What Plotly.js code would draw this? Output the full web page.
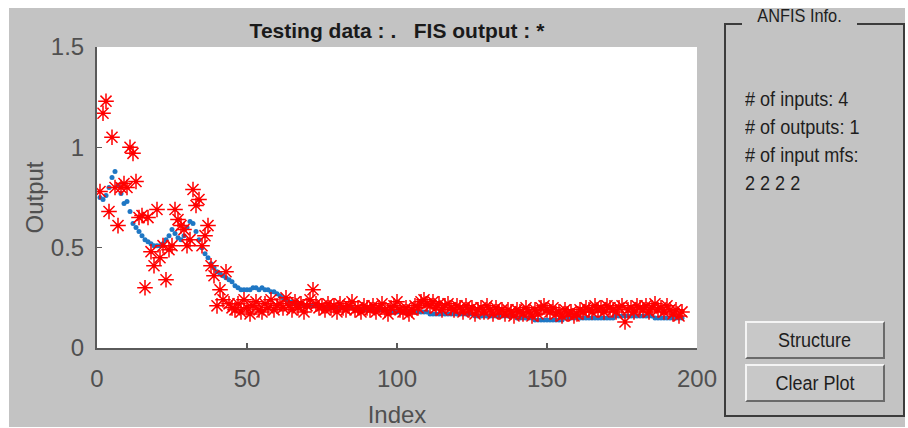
<!DOCTYPE html>
<html>
<head>
<meta charset="utf-8">
<script src="https://cdn.plot.ly/plotly-3.0.1.min.js"></script>
<style>
  html, body { margin:0; padding:0; background:#ffffff; width:908px; height:428px; overflow:hidden; }
  #bg { position:absolute; left:9px; top:8px; width:896px; height:419px; background:#c3c3c3; }
  #plot { position:absolute; left:0; top:0; width:908px; height:428px; }
  .nar { font-family:"Liberation Sans Narrow","Liberation Sans",Arial,sans-serif; color:#1e1e1e; }
  #frame { position:absolute; left:724px; top:23px; width:177px; height:392px;
           border:2px solid #3c3c3c; border-top:none; }
  .topline { position:absolute; top:23px; height:2px; background:#3c3c3c; }
  #ftitle { position:absolute; left:742px; width:115px; top:5px; text-align:center; font-size:19px;
            transform:scaleX(0.86); transform-origin:center; }
  #info { position:absolute; left:745px; top:85px; font-size:21px; line-height:28px;
          transform:scaleX(0.86); transform-origin:left top; white-space:nowrap; }
  .btn { position:absolute; left:745px; width:136px; height:34px; background:#c8c8c8;
         border-top:2px solid #f4f4f4; border-left:2px solid #f4f4f4;
         border-right:2px solid #6a6a6a; border-bottom:2px solid #6a6a6a;
         text-align:center; line-height:34px; font-size:19px; box-sizing:content-box; }
  .btn span { display:inline-block; transform:scaleX(0.9); font-size:20px; }
</style>
</head>
<body>
<div id="bg"></div>
<div id="plot"></div>
<div id="frame"></div>
<div class="topline" style="left:724px;width:18px;"></div>
<div class="topline" style="left:857px;width:46px;"></div>
<div id="ftitle" class="nar">ANFIS Info.</div>
<div id="info" class="nar"># of inputs: 4<br># of outputs: 1<br># of input mfs:<br>2 2 2 2</div>
<div class="btn nar" style="top:321px;"><span>Structure</span></div>
<div class="btn nar" style="top:364px;"><span>Clear Plot</span></div>
<script>
// Testing data (blue dots), index 1..195
const testingData = [
  0.75,0.74,0.76,0.80,0.85,0.88,0.81,0.77,0.72,0.73,0.68,0.62,0.60,0.58,0.56,0.54,0.53,0.52,0.51,0.51,
  0.51,0.52,0.54,0.56,0.59,0.57,0.55,0.54,0.56,0.60,0.63,0.62,0.58,0.54,0.50,0.47,0.45,0.42,0.40,0.38,
  0.37,0.36,0.35,0.34,0.33,0.31,0.30,0.29,0.29,0.29,0.29,0.30,0.30,0.29,0.30,0.29,0.29,0.28,0.28,0.27,
  0.26,0.25,0.24,0.23,0.23,0.22,0.22,0.22,0.21,0.21,0.21,0.21,0.21,0.21,0.21,0.20,0.20,0.20,0.20,0.20,
  0.20,0.20,0.20,0.20,0.20,0.19,0.19,0.19,0.19,0.19,0.19,0.19,0.19,0.19,0.19,0.19,0.18,0.18,0.18,0.18,
  0.18,0.18,0.18,0.18,0.18,0.18,0.18,0.18,0.18,0.18,0.17,0.17,0.17,0.17,0.17,0.17,0.17,0.17,0.17,0.17,
  0.17,0.17,0.17,0.17,0.17,0.16,0.16,0.16,0.16,0.16,0.16,0.16,0.16,0.16,0.16,0.16,0.16,0.16,0.16,0.15,
  0.15,0.15,0.15,0.15,0.15,0.14,0.14,0.14,0.14,0.14,0.14,0.14,0.14,0.14,0.14,0.15,0.15,0.15,0.15,0.15,
  0.15,0.15,0.15,0.15,0.15,0.15,0.15,0.15,0.15,0.15,0.15,0.15,0.16,0.16,0.16,0.16,0.16,0.16,0.16,0.16,
  0.16,0.16,0.16,0.16,0.16,0.15,0.15,0.15,0.15,0.15,0.15,0.15,0.15,0.15,0.15
];
// FIS output (red asterisks), index 1..195
const fisOutput = [
  0.78,1.17,1.23,0.68,1.05,0.80,0.61,0.80,0.82,0.80,1.00,0.97,0.83,0.65,0.66,0.30,0.65,0.48,0.41,0.69,
  0.45,0.51,0.34,0.49,0.51,0.69,0.64,0.61,0.59,0.51,0.54,0.79,0.71,0.74,0.51,0.56,0.61,0.41,0.36,0.21,
  0.29,0.24,0.38,0.22,0.20,0.19,0.22,0.18,0.24,0.20,0.17,0.21,0.23,0.19,0.18,0.22,0.20,0.24,0.19,0.21,
  0.22,0.20,0.25,0.21,0.19,0.23,0.20,0.22,0.18,0.21,0.24,0.29,0.22,0.20,0.21,0.19,0.22,0.20,0.21,0.18,
  0.22,0.20,0.19,0.21,0.23,0.19,0.20,0.18,0.21,0.20,0.19,0.21,0.18,0.20,0.22,0.19,0.17,0.20,0.21,0.23,
  0.19,0.18,0.20,0.17,0.19,0.21,0.20,0.23,0.24,0.22,0.21,0.23,0.20,0.22,0.19,0.21,0.22,0.20,0.19,0.21,
  0.20,0.18,0.21,0.19,0.20,0.17,0.19,0.20,0.18,0.21,0.19,0.17,0.20,0.18,0.19,0.17,0.19,0.18,0.16,0.19,
  0.18,0.17,0.20,0.18,0.16,0.19,0.17,0.20,0.21,0.19,0.18,0.20,0.17,0.18,0.16,0.19,0.17,0.18,0.16,0.17,
  0.19,0.18,0.20,0.19,0.18,0.21,0.19,0.20,0.18,0.21,0.20,0.19,0.18,0.20,0.21,0.13,0.19,0.20,0.18,0.21,
  0.20,0.19,0.21,0.18,0.20,0.22,0.19,0.20,0.18,0.21,0.19,0.17,0.19,0.16,0.18
];
const xTicks = [0, 50, 100, 150, 200];
const yTicks = [0, 0.5, 1, 1.5];
const yTickLabels = ['0', '0.5', '1', '1.5'];

const idxT = testingData.map((_, i) => i + 1);
const idxF = fisOutput.map((_, i) => i + 1);
const NARROW = '"Liberation Sans Narrow","Liberation Sans",Arial,sans-serif';

const traces = [
  { x: idxT, y: testingData, mode: 'markers', type: 'scatter', name: 'Testing data',
    marker: { color: '#1f77c4', size: 5 } },
  { x: idxF, y: fisOutput, mode: 'markers', type: 'scatter', name: 'FIS output',
    marker: { symbol: 'asterisk-open', size: 13, color: 'red', line: { color: '#ff0000', width: 1.5 } } }
];

const axisCommon = {
  showgrid: false, zeroline: false, showline: true, linecolor: '#5a5a5a', linewidth: 2,
  ticks: 'inside', ticklen: 5, tickcolor: '#5a5a5a', tickwidth: 1.5,
  tickfont: { family: NARROW, size: 24, color: '#505050' }
};

const layout = {
  width: 908, height: 428,
  margin: { l: 97, r: 211, t: 47, b: 80, pad: 0 },
  paper_bgcolor: 'rgba(0,0,0,0)', plot_bgcolor: '#ffffff',
  showlegend: false,
  title: { text: '<b>Testing data : .   FIS output : *</b>', x: 397/908, xanchor: 'center', y: 1 - 31/428, yanchor: 'middle',
           font: { family: NARROW, size: 21, color: '#1a1a1a' } },
  xaxis: Object.assign({}, axisCommon, {
    range: [0, 200], tickvals: xTicks, ticktext: xTicks.map(String), ticklabelstandoff: 8,
    title: { text: 'Index', font: { family: NARROW, size: 24, color: '#505050' }, standoff: 16 }
  }),
  yaxis: Object.assign({}, axisCommon, {
    range: [0, 1.5], tickvals: yTicks, ticktext: yTickLabels, ticklabelstandoff: 6,
    title: { text: 'Output', font: { family: NARROW, size: 24, color: '#505050' }, standoff: 0 }
  })
};

Plotly.newPlot('plot', traces, layout, { displayModeBar: false, staticPlot: true });
</script>
</body>
</html>
